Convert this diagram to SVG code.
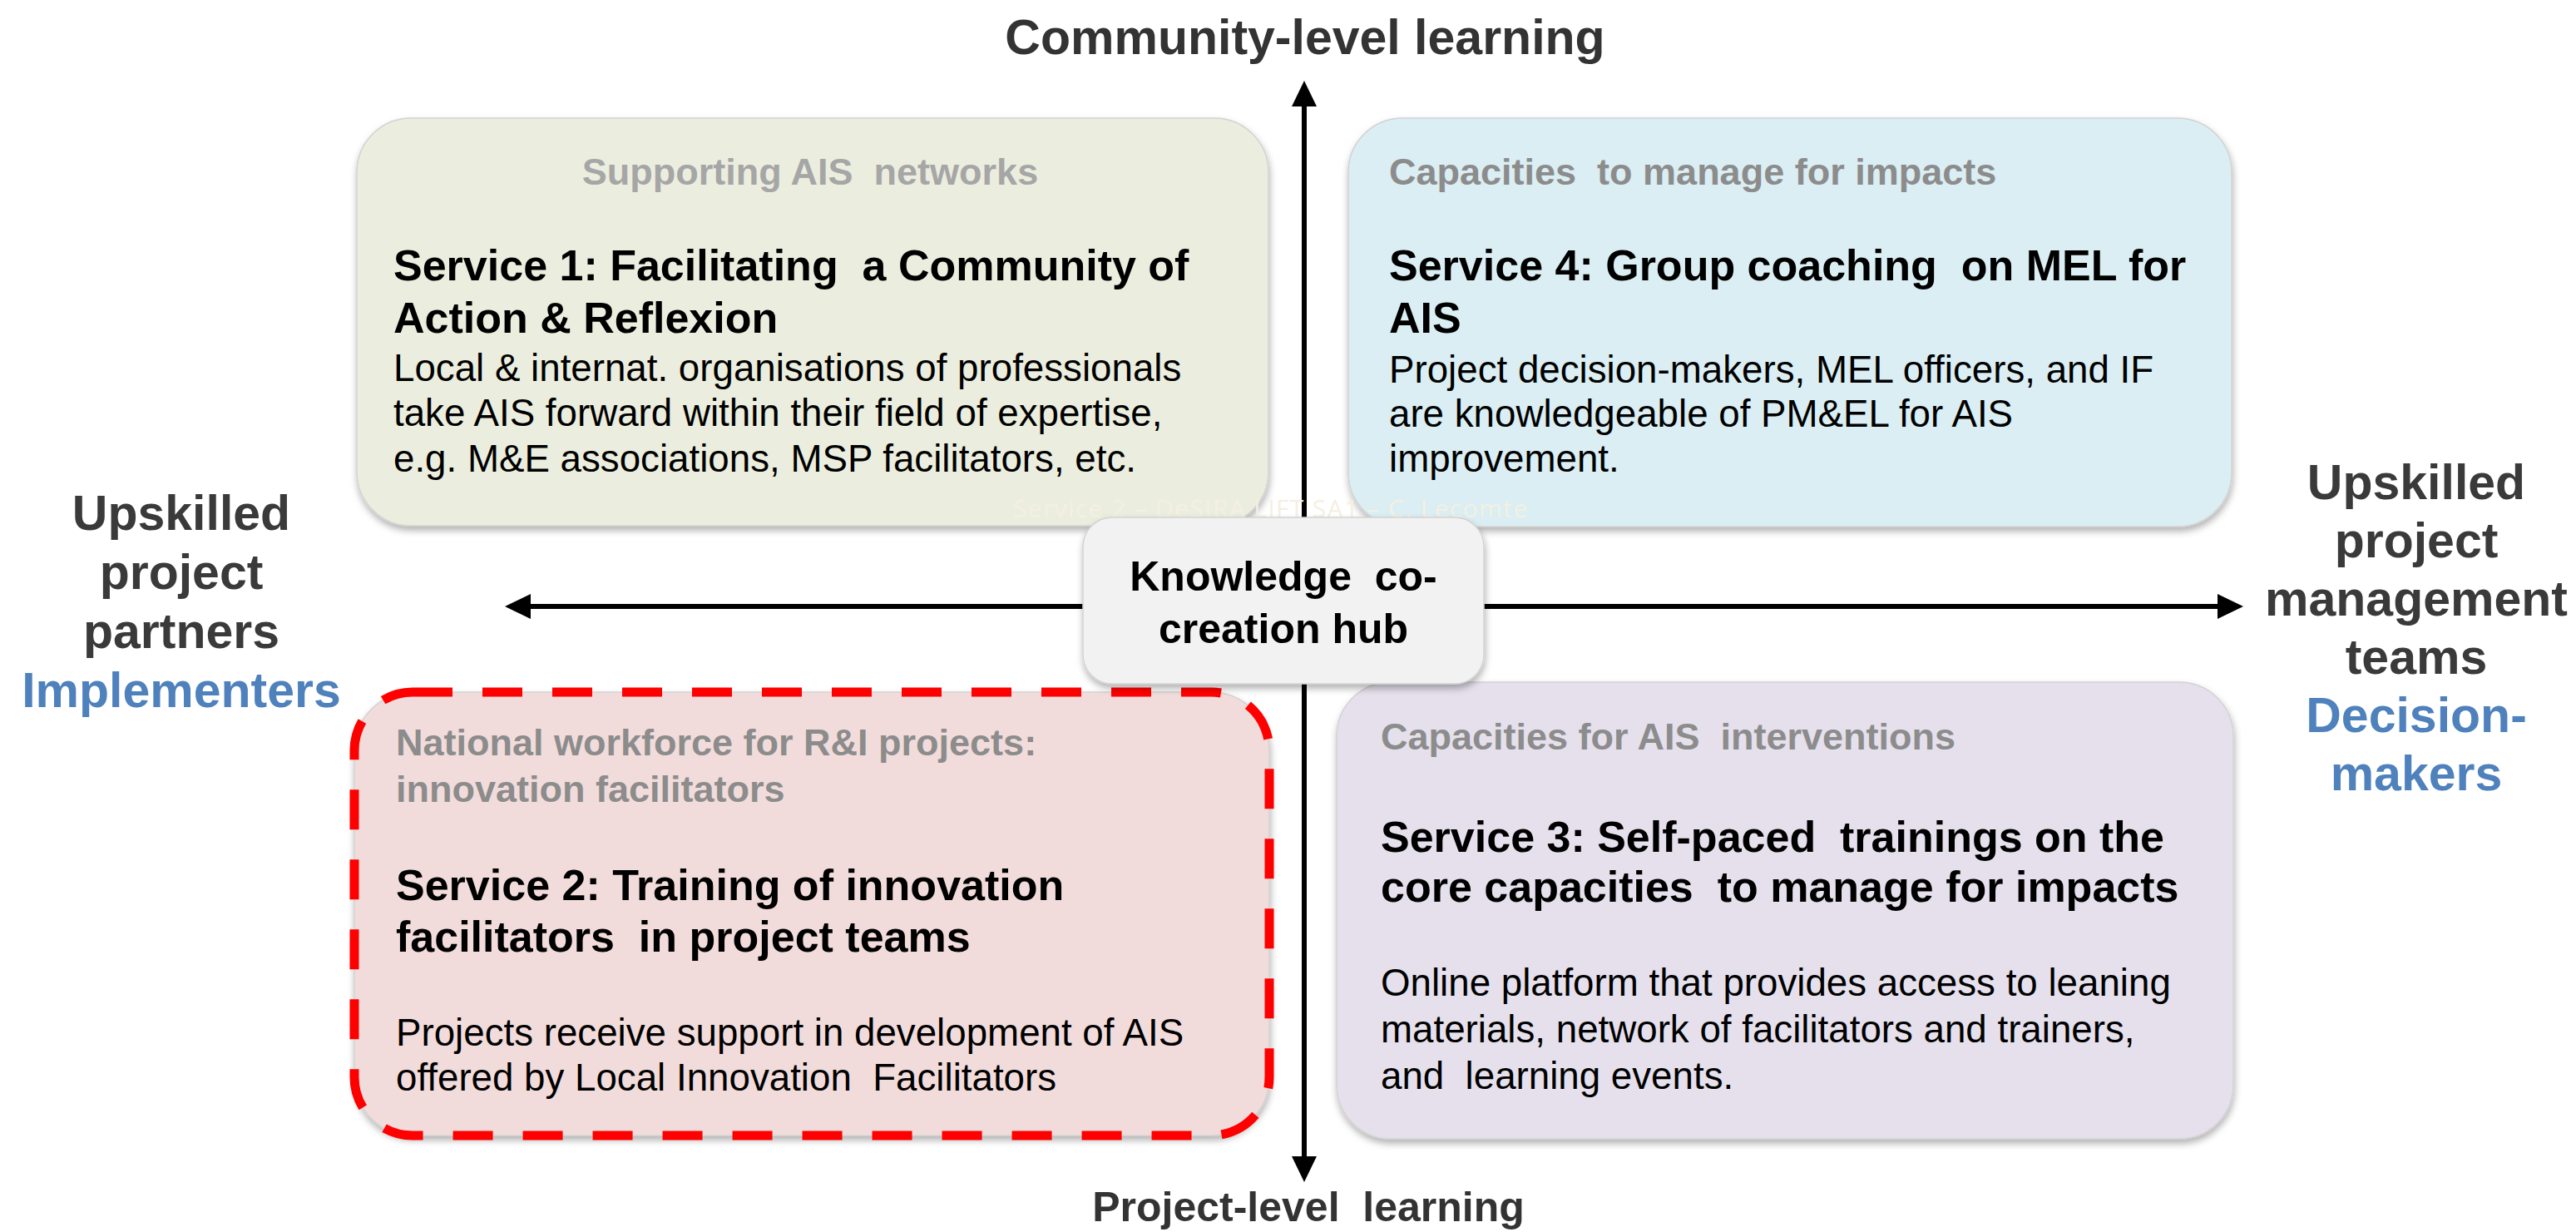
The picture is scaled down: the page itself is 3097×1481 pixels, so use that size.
<svg xmlns="http://www.w3.org/2000/svg" width="3097" height="1481" viewBox="0 0 3097 1481">
<defs>
<style>
text{font-family:"Liberation Sans",Arial,sans-serif}
.cat{font-size:45px;font-weight:bold;fill:#8c8c8c}
.ttl{font-size:52px;font-weight:bold;fill:#000}
.bd{font-size:45.7px;fill:#000}
.side{font-size:59px;font-weight:bold;fill:#3a3a3a;text-anchor:middle}
.blue{fill:#4f81bd}
.axis{font-size:59px;font-weight:bold;fill:#333;text-anchor:middle}
.box{stroke:#d2d2d2;stroke-width:1.5;filter:url(#sh)}
.conn{stroke:#000;stroke-width:6;fill:none;marker-start:url(#ah);marker-end:url(#ah)}
</style>
<filter id="sh" x="-5%" y="-5%" width="110%" height="115%">
<feDropShadow dx="1" dy="5" stdDeviation="4" flood-color="#000" flood-opacity="0.3"/>
</filter>
<marker id="ah" markerUnits="userSpaceOnUse" markerWidth="32" markerHeight="30" refX="0" refY="15" orient="auto-start-reverse" viewBox="0 0 32 30">
<path d="M0,0 L31,15 L0,30 z" fill="#000"/>
</marker>
</defs>
<rect width="3097" height="1481" fill="#fff"/>

<g id="connectors">
<line class="conn" x1="1568" y1="128" x2="1568" y2="1390"/>
<line class="conn" x1="638" y1="729" x2="2666" y2="729"/>
</g>

<text class="axis" x="1569" y="65">Community-level learning</text>
<text class="axis" x="1573" y="1468" style="font-size:50px" xml:space="preserve">Project-level  learning</text>

<g id="label-left">
<text class="side" x="218" y="637">Upskilled</text>
<text class="side" x="218" y="708">project</text>
<text class="side" x="218" y="779">partners</text>
<text class="side blue" x="218" y="850">Implementers</text>
</g>
<g id="label-right">
<text class="side" x="2905" y="600">Upskilled</text>
<text class="side" x="2905" y="670">project</text>
<text class="side" x="2905" y="740">management</text>
<text class="side" x="2905" y="810">teams</text>
<text class="side blue" x="2905" y="880">Decision-</text>
<text class="side blue" x="2905" y="950">makers</text>
</g>

<g id="service1">
<rect class="box" x="429" y="142" width="1096" height="490" rx="65" fill="#ebeede"/>
<text class="cat" x="974" y="222" text-anchor="middle" style="fill:#a6a6a6" xml:space="preserve">Supporting AIS  networks</text>
<text class="ttl" x="473" y="337" xml:space="preserve">Service 1: Facilitating  a Community of</text>
<text class="ttl" x="473" y="400">Action &amp; Reflexion</text>
<text class="bd" x="473" y="458">Local &amp; internat. organisations of professionals</text>
<text class="bd" x="473" y="512">take AIS forward within their field of expertise,</text>
<text class="bd" x="473" y="567">e.g. M&amp;E associations, MSP facilitators, etc.</text>
</g>

<g id="service4">
<rect class="box" x="1621" y="142" width="1062" height="491" rx="65" fill="#daeef3"/>
<text class="cat" x="1670" y="222" xml:space="preserve">Capacities  to manage for impacts</text>
<text class="ttl" x="1670" y="337" xml:space="preserve">Service 4: Group coaching  on MEL for</text>
<text class="ttl" x="1670" y="400">AIS</text>
<text class="bd" x="1670" y="460">Project decision-makers, MEL officers, and IF</text>
<text class="bd" x="1670" y="513">are knowledgeable of PM&amp;EL for AIS</text>
<text class="bd" x="1670" y="567">improvement.</text>
</g>

<g id="service2">
<rect class="box" x="426" y="832" width="1100" height="533" rx="70" fill="#f2dcdb"/>
<rect x="426" y="832" width="1100" height="533" rx="70" fill="none" stroke="#ff0000" stroke-width="11" stroke-dasharray="48 36"/>
<text class="cat" x="476" y="908">National workforce for R&amp;I projects:</text>
<text class="cat" x="476" y="964">innovation facilitators</text>
<text class="ttl" x="476" y="1082">Service 2: Training of innovation</text>
<text class="ttl" x="476" y="1144" xml:space="preserve">facilitators  in project teams</text>
<text class="bd" x="476" y="1257">Projects receive support in development of AIS</text>
<text class="bd" x="476" y="1311" xml:space="preserve">offered by Local Innovation  Facilitators</text>
</g>

<g id="service3">
<rect class="box" x="1607" y="820" width="1078" height="549" rx="65" fill="#e5e0ec"/>
<text class="cat" x="1660" y="901" xml:space="preserve">Capacities for AIS  interventions</text>
<text class="ttl" x="1660" y="1024" xml:space="preserve">Service 3: Self-paced  trainings on the</text>
<text class="ttl" x="1660" y="1084" xml:space="preserve">core capacities  to manage for impacts</text>
<text class="bd" x="1660" y="1197">Online platform that provides access to leaning</text>
<text class="bd" x="1660" y="1253">materials, network of facilitators and trainers,</text>
<text class="bd" x="1660" y="1309" xml:space="preserve">and  learning events.</text>
</g>

<text x="1218" y="622" style="font-family:'Open Sans',sans-serif;font-size:30px" fill="#f4f0e2" textLength="618">Service 2 – DeSIRA LIFT SA1 – C. Lecomte</text>

<g id="hub">
<rect class="box" x="1302" y="622" width="482" height="200" rx="35" fill="#f2f2f2"/>
<text x="1543" y="710" text-anchor="middle" style="font-size:50px;font-weight:bold" xml:space="preserve">Knowledge  co-</text>
<text x="1543" y="773" text-anchor="middle" style="font-size:50px;font-weight:bold">creation hub</text>
</g>
</svg>
